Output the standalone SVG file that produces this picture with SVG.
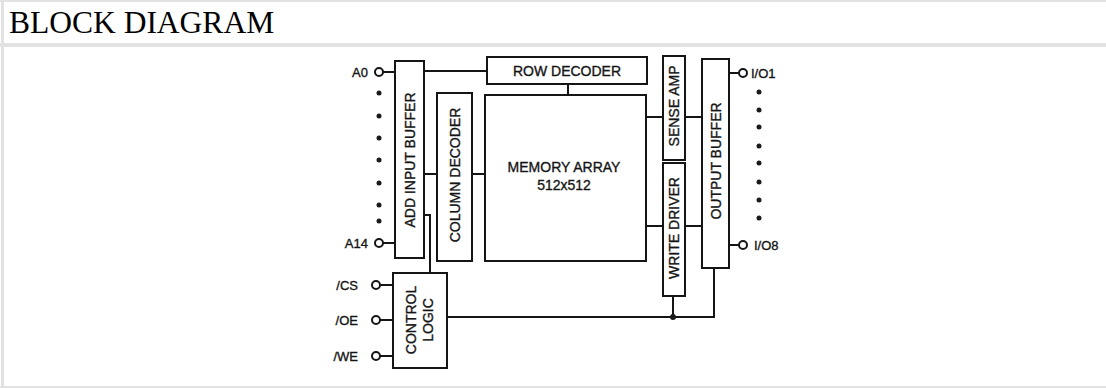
<svg xmlns="http://www.w3.org/2000/svg" width="1106" height="388" viewBox="0 0 1106 388">
<style>
.frame{fill:#e2e2e2}
.box{fill:#fff;stroke:#151515;stroke-width:2}
.wire{fill:none;stroke:#151515;stroke-width:2}
.pin{fill:#fff;stroke:#151515;stroke-width:2}
.dot{fill:#1a1a1a}
.t{font-family:"Liberation Sans",Arial,sans-serif;font-size:14px;fill:#151515;stroke:#151515;stroke-width:0.35}
.lbl{font-family:"Liberation Sans",Arial,sans-serif;font-size:13px;fill:#151515;stroke:#151515;stroke-width:0.35}
.head{font-family:"Liberation Serif","Times New Roman",serif;font-size:31.5px;fill:#000}
</style>
<rect width="1106" height="388" fill="#fff"/>
<g id="frame">
<rect class="frame" x="0" y="0" width="1106" height="2"/>
<rect class="frame" x="1" y="0" width="3" height="388"/>
<rect class="frame" x="0" y="43" width="1106" height="4"/>
<rect class="frame" x="0" y="386" width="1106" height="2"/>
<text class="head" x="9" y="33">BLOCK DIAGRAM</text>
</g>
<g id="connectors">
<line class="wire" x1="383" y1="72" x2="395" y2="72"/>
<line class="wire" x1="383" y1="243" x2="395" y2="243"/>
<line class="wire" x1="380" y1="285" x2="393" y2="285"/>
<line class="wire" x1="380" y1="320" x2="393" y2="320"/>
<line class="wire" x1="380" y1="356" x2="393" y2="356"/>
<line class="wire" x1="424" y1="71" x2="487" y2="71"/>
<line class="wire" x1="568" y1="84" x2="568" y2="95"/>
<line class="wire" x1="424" y1="174" x2="437" y2="174"/>
<line class="wire" x1="472" y1="174" x2="485" y2="174"/>
<polyline class="wire" points="424,215 430,215 430,273"/>
<line class="wire" x1="646" y1="117" x2="663" y2="117"/>
<line class="wire" x1="685" y1="117" x2="702" y2="117"/>
<line class="wire" x1="646" y1="226" x2="663" y2="226"/>
<line class="wire" x1="685" y1="226" x2="702" y2="226"/>
<line class="wire" x1="729" y1="73" x2="739" y2="73"/>
<line class="wire" x1="729" y1="245" x2="739" y2="245"/>
<polyline class="wire" points="447,317 714,317 714,268"/>
<line class="wire" x1="673" y1="296" x2="673" y2="317"/>
<circle class="dot" cx="673" cy="317" r="3"/>
</g>
<g id="pins">
<circle class="pin" cx="379" cy="72" r="4"/>
<circle class="pin" cx="379" cy="243" r="4"/>
<circle class="pin" cx="376" cy="285" r="4"/>
<circle class="pin" cx="376" cy="320" r="4"/>
<circle class="pin" cx="376" cy="356" r="4"/>
<circle class="pin" cx="743" cy="73" r="4"/>
<circle class="pin" cx="743" cy="245" r="4"/>
<g class="dot">
<circle cx="379" cy="93" r="2.5"/><circle cx="379" cy="116" r="2.5"/><circle cx="379" cy="138" r="2.5"/><circle cx="379" cy="160" r="2.5"/><circle cx="379" cy="183" r="2.5"/><circle cx="379" cy="205" r="2.5"/><circle cx="379" cy="221" r="2.5"/>
<circle cx="759" cy="92" r="2.5"/><circle cx="759" cy="110" r="2.5"/><circle cx="759" cy="127" r="2.5"/><circle cx="759" cy="146" r="2.5"/><circle cx="759" cy="163" r="2.5"/><circle cx="759" cy="182" r="2.5"/><circle cx="759" cy="200" r="2.5"/><circle cx="759" cy="218" r="2.5"/>
</g>
<text class="lbl" x="368" y="77" text-anchor="end">A0</text>
<text class="lbl" x="368" y="248" text-anchor="end">A14</text>
<text class="lbl" x="358" y="290" text-anchor="end">/CS</text>
<text class="lbl" x="358" y="325" text-anchor="end">/OE</text>
<text class="lbl" x="358" y="361" text-anchor="end">/WE</text>
<text class="lbl" x="751" y="78">I/O1</text>
<text class="lbl" x="754" y="250">I/O8</text>
</g>
<g id="add-input-buffer">
<rect class="box" x="395" y="61" width="29" height="197"/>
<text class="t" transform="translate(414.5,160) rotate(-90)" text-anchor="middle">ADD INPUT BUFFER</text>
</g>
<g id="row-decoder">
<rect class="box" x="487" y="57" width="160" height="27"/>
<text class="t" x="567" y="75.5" text-anchor="middle">ROW DECODER</text>
</g>
<g id="column-decoder">
<rect class="box" x="437" y="93" width="35" height="168"/>
<text class="t" transform="translate(459.5,175) rotate(-90)" text-anchor="middle">COLUMN DECODER</text>
</g>
<g id="memory-array">
<rect class="box" x="485" y="95" width="161" height="166"/>
<text class="t" x="564" y="172" text-anchor="middle">MEMORY ARRAY</text>
<text class="t" x="564" y="190" text-anchor="middle">512x512</text>
</g>
<g id="sense-amp">
<rect class="box" x="663" y="56" width="22" height="104"/>
<text class="t" transform="translate(679,106) rotate(-90)" text-anchor="middle">SENSE AMP</text>
</g>
<g id="write-driver">
<rect class="box" x="663" y="163" width="22" height="133"/>
<text class="t" transform="translate(679,228) rotate(-90)" text-anchor="middle">WRITE DRIVER</text>
</g>
<g id="output-buffer">
<rect class="box" x="702" y="59" width="27" height="209"/>
<text class="t" transform="translate(720.5,161) rotate(-90)" text-anchor="middle">OUTPUT BUFFER</text>
</g>
<g id="control-logic">
<rect class="box" x="393" y="273" width="54" height="95"/>
<text class="t" transform="translate(416,320) rotate(-90)" text-anchor="middle">CONTROL</text>
<text class="t" transform="translate(433,320) rotate(-90)" text-anchor="middle">LOGIC</text>
</g>
</svg>
